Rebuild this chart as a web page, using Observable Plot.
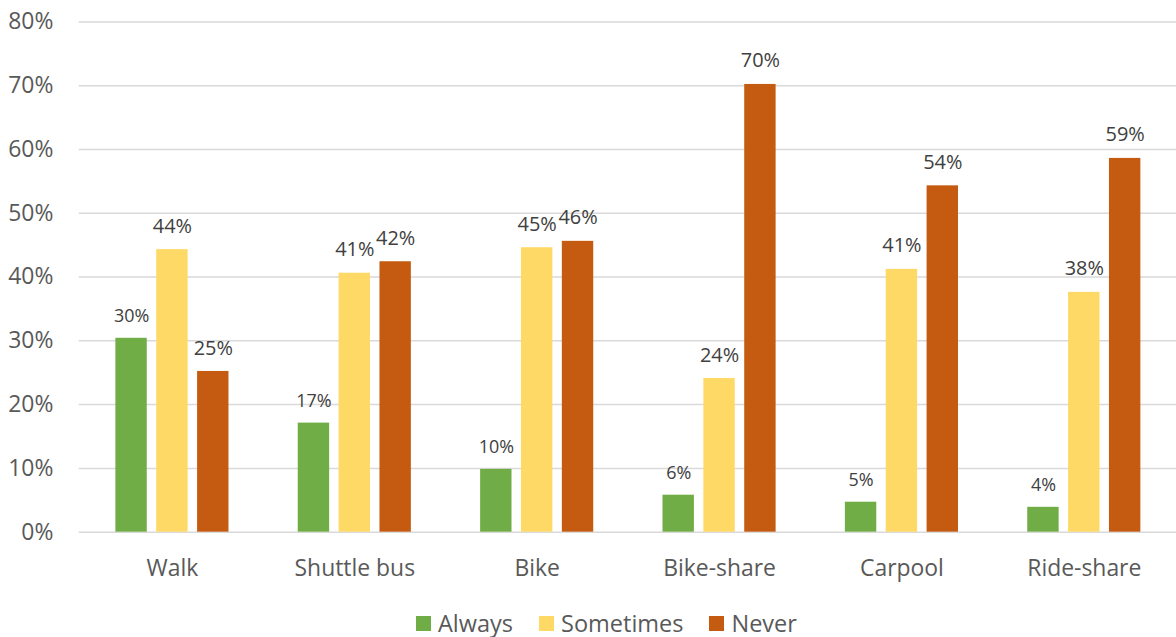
<!DOCTYPE html>
<html>
<head>
<meta charset="utf-8">
<script src="https://cdn.jsdelivr.net/npm/d3@7"></script>
<script src="https://cdn.jsdelivr.net/npm/@observablehq/plot@0.6"></script>
<style>
  html, body { margin: 0; padding: 0; background: #fff; overflow: hidden; }
  body { width: 1176px; height: 637px; position: relative; font-family: "Open Sans", sans-serif; }
  #legend { position: absolute; top: 610px; left: 416px; display: flex; align-items: center;
            font-size: 23.5px; line-height: 26px; height: 26px; color: #595959; font-family: "Open Sans", sans-serif; }
  .item { display: flex; align-items: center; margin-right: 26px; }
  .sw { width: 15px; height: 15px; margin-right: 7px; display: inline-block; }
</style>
</head>
<body>
<div id="chart"></div>
<div id="legend"></div>
<script>
const categories = ["Walk", "Shuttle bus", "Bike", "Bike-share", "Carpool", "Ride-share"];
const series = ["Always", "Sometimes", "Never"];
const always = [30.4, 17.1, 9.85, 5.8, 4.7, 3.9];
const sometimes = [44.3, 40.6, 44.6, 24.1, 41.2, 37.6];
const never = [25.2, 42.4, 45.6, 70.2, 54.3, 58.6];
const yTicks = [0, 10, 20, 30, 40, 50, 60, 70, 80];
const colors = ["#70AD47", "#FFD966", "#C55A11"];

const seriesValues = [always, sometimes, never];
const rows = series.flatMap((s, i) =>
  categories.map((c, j) => ({category: c, series: s, value: seriesValues[i][j]})));

const W = 1180, ML = 79, MR = 0;
const band = (W - ML - MR) / categories.length;
const barW = 32, step = 41;
const center = (band - barW) / 2;
const offsets = [-step, 0, step];

const marks = [
  Plot.gridY(yTicks, {stroke: "#d9d9d9", strokeOpacity: 1, strokeWidth: 1.5}),
  Plot.axisY(yTicks, {tickSize: 0, tickPadding: 26, tickFormat: d => d + "%", fontSize: 23, label: null}),
  Plot.axisX({tickSize: 0, tickPadding: 28, fontSize: 23, label: null})
];
series.forEach((s, i) => {
  const data = rows.filter(d => d.series === s);
  marks.push(Plot.barY(data, {
    x: "category", y: "value", fill: "series",
    insetLeft: center + offsets[i], insetRight: center - offsets[i]
  }));
  marks.push(Plot.text(data, {
    x: "category", y: "value", text: d => Math.round(d.value) + "%",
    dx: offsets[i], dy: i === 0 ? -16 : -17, lineAnchor: "bottom",
    fontSize: i === 0 ? 18 : 20, fill: "#404040"
  }));
});

const chart = Plot.plot({
  width: W,
  height: 600,
  marginTop: 21.5,
  marginBottom: 66.5,
  marginLeft: ML,
  marginRight: MR,
  x: {domain: categories, padding: 0},
  y: {domain: [0, 80]},
  color: {domain: series, range: colors},
  style: {fontFamily: "Open Sans, sans-serif", color: "#595959", background: "#fff", overflow: "hidden"},
  marks
});
document.getElementById("chart").appendChild(chart);

const legend = document.getElementById("legend");
series.forEach((s, i) => {
  const item = document.createElement("div");
  item.className = "item";
  const sw = document.createElement("span");
  sw.className = "sw";
  sw.style.background = colors[i];
  const t = document.createElement("span");
  t.textContent = s;
  item.appendChild(sw);
  item.appendChild(t);
  legend.appendChild(item);
});
</script>
</body>
</html>
